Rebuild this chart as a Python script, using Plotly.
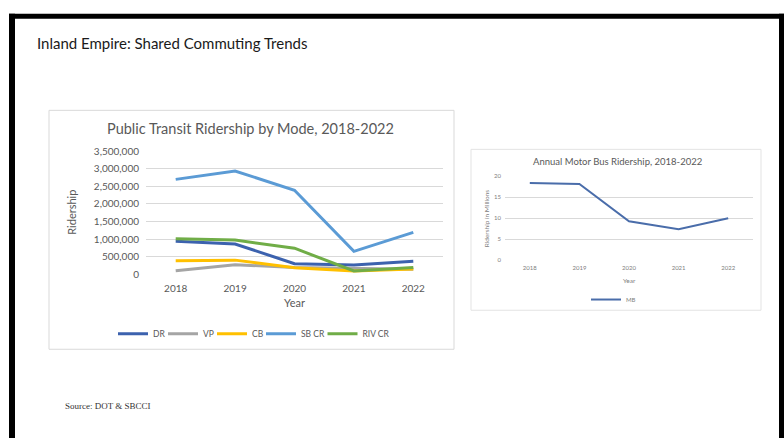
import plotly.graph_objects as go

W, H = 784, 443

# ---- data -------------------------------------------------------------
years = ["2018", "2019", "2020", "2021", "2022"]

mode_names = ["DR", "VP", "CB", "SB CR", "RIV CR"]
dr = [940000, 860000, 300000, 260000, 370000]
vp = [100000, 270000, 190000, 170000, 140000]
cb = [380000, 400000, 180000, 90000, 150000]
sb_cr = [2700000, 2940000, 2390000, 650000, 1190000]
riv_cr = [1010000, 970000, 740000, 90000, 190000]

mb = [18.4, 18.2, 9.3, 7.4, 10.0]

ridership_ticks = [0, 500000, 1000000, 1500000, 2000000, 2500000, 3000000, 3500000]
million_ticks = [0, 5, 10, 15, 20]

# ---- styling ------------------------------------------------------------
FONT = "Lato"
GREY_TXT = "#595959"
GRID = "#D9D9D9"
mode_colors = ["#3C62AE", "#A5A5A5", "#FFC000", "#5B9BD5", "#70AD47"]
MB_COLOR = "#4A6DAA"
# left end (px) of each legend line sample under the mode chart
legend_line_start_px = [118, 168, 217, 266, 327.5]


def fx(px):
    return px / W


def fy(py):
    return 1 - py / H


fig = go.Figure()

legend_layouts = {}
for i, (name, vals, col) in enumerate(zip(mode_names, [dr, vp, cb, sb_cr, riv_cr], mode_colors)):
    key = "legend" if i == 0 else f"legend{i + 1}"
    fig.add_trace(go.Scatter(
        x=years, y=vals, name=name, mode="lines",
        line=dict(color=col, width=3),
        xaxis="x", yaxis="y", legend=key,
    ))
    # a legend entry draws its 30px line from +5 to +35 px, text from +40 px
    legend_layouts[key] = dict(
        orientation="h", x=fx(legend_line_start_px[i] - 5), y=fy(336),
        xanchor="left", yanchor="middle",
        font=dict(size=8.5, color=GREY_TXT), bgcolor="rgba(0,0,0,0)",
        itemwidth=30,
    )

fig.add_trace(go.Scatter(
    x=years, y=mb, name="MB", mode="lines",
    line=dict(color=MB_COLOR, width=2),
    xaxis="x2", yaxis="y2", legend="legend6",
))
legend_layouts["legend6"] = dict(
    orientation="h", x=fx(586), y=fy(301), xanchor="left", yanchor="middle",
    font=dict(size=6, color="#808080"), bgcolor="rgba(0,0,0,0)", itemwidth=30,
)

axis_common = dict(showline=False, zeroline=False, ticks="", fixedrange=True)

fig.update_layout(
    width=W, height=H,
    margin=dict(l=0, r=0, t=0, b=0),
    paper_bgcolor="white", plot_bgcolor="white",
    font=dict(family=FONT, color=GREY_TXT),
    xaxis=dict(domain=[fx(146), fx(443)], anchor="y", type="category",
               categoryorder="array", categoryarray=years, range=[-0.5, 4.5],
               showgrid=False, tickfont=dict(size=10, color=GREY_TXT),
               ticklabelstandoff=7, **axis_common),
    yaxis=dict(domain=[fy(275), fy(149)], anchor="x", range=[0, 3500000],
               tickvals=ridership_ticks, tickformat=",d",
               showgrid=True, gridcolor=GRID, gridwidth=1,
               tickfont=dict(size=10, color=GREY_TXT),
               ticklabelstandoff=6, **axis_common),
    xaxis2=dict(domain=[fx(505), fx(753)], anchor="y2", type="category",
                categoryorder="array", categoryarray=years, range=[-0.5, 4.5],
                showgrid=False, tickfont=dict(size=6, color="#808080"),
                ticklabelstandoff=3, **axis_common),
    yaxis2=dict(domain=[fy(260.7), fy(174.7)], anchor="x2", range=[0, 20],
                tickvals=million_ticks, showgrid=True, gridcolor=GRID, gridwidth=1,
                tickfont=dict(size=6, color="#808080"),
                ticklabelstandoff=3, **axis_common),
    showlegend=True,
    **legend_layouts,
)

# slide frame and chart boxes
shapes = [
    dict(type="rect", xref="paper", yref="paper", x0=fx(9), x1=fx(784), y0=fy(13), y1=fy(8),
         fillcolor="black", line=dict(width=0), layer="above"),
    dict(type="rect", xref="paper", yref="paper", x0=fx(9), x1=fx(15), y0=fy(443), y1=fy(8),
         fillcolor="black", line=dict(width=0), layer="above"),
    dict(type="rect", xref="paper", yref="paper", x0=fx(779), x1=fx(784), y0=fy(443), y1=fy(8),
         fillcolor="black", line=dict(width=0), layer="above"),
    dict(type="rect", xref="paper", yref="paper", x0=fx(49), x1=fx(454), y0=fy(352), y1=fy(107),
         fillcolor="rgba(0,0,0,0)", line=dict(color=GRID, width=1), layer="below"),
    dict(type="rect", xref="paper", yref="paper", x0=fx(471), x1=fx(761), y0=fy(312), y1=fy(147),
         fillcolor="rgba(0,0,0,0)", line=dict(color="#E3E3E3", width=1), layer="below"),
]

annotations = [
    dict(text="Inland Empire: Shared Commuting Trends", x=fx(35), y=fy(38),
         xanchor="left", yanchor="middle", font=dict(size=15, color="#1A1A1A", family=FONT)),
    dict(text="Public Transit Ridership by Mode, 2018-2022", x=fx(251), y=fy(126),
         xanchor="center", yanchor="middle", font=dict(size=14.5, color=GREY_TXT)),
    dict(text="Ridership", x=fx(72), y=fy(212), textangle=-90,
         xanchor="center", yanchor="middle", font=dict(size=11, color=GREY_TXT)),
    dict(text="Year", x=fx(294.5), y=fy(304),
         xanchor="center", yanchor="middle", font=dict(size=11, color=GREY_TXT)),
    dict(text="Annual Motor Bus Ridership, 2018-2022", x=fx(617), y=fy(159),
         xanchor="center", yanchor="middle", font=dict(size=9.5, color=GREY_TXT)),
    dict(text="Ridership in Millions", x=fx(486), y=fy(217.7), textangle=-90,
         xanchor="center", yanchor="middle", font=dict(size=6.5, color="#808080")),
    dict(text="Year", x=fx(629), y=fy(281),
         xanchor="center", yanchor="middle", font=dict(size=6.5, color="#808080")),
    dict(text="Source: DOT &amp; SBCCI", x=fx(63), y=fy(410),
         xanchor="left", yanchor="middle",
         font=dict(size=9, color="#333333", family="Liberation Serif")),
]
for a in annotations:
    a.update(xref="paper", yref="paper", showarrow=False)

fig.update_layout(shapes=shapes, annotations=annotations)

fig.write_html("out.html")
